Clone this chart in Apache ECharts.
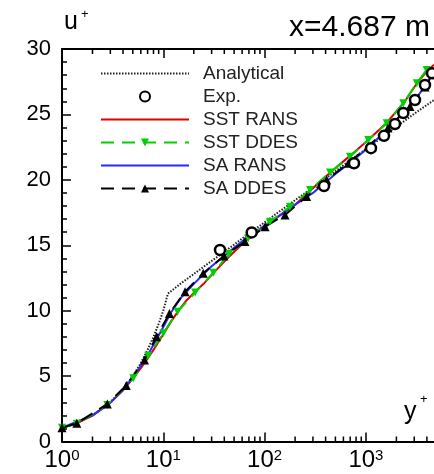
<!DOCTYPE html>
<html><head><meta charset="utf-8">
<script src="https://cdn.jsdelivr.net/npm/echarts@6/dist/echarts.min.js"></script>
<style>html,body{margin:0;padding:0;background:#fff;overflow:hidden}#c{width:434px;height:474px}</style>
</head><body><div id="c"></div>
<script>
// y+ , u+ pairs
const analytical = [[1,1],[2,2],[3,3],[4,4],[5,5],[6,6],[7,7],[8,8],[9,9],[10,10],[11.1,11.3],[15,12.1],[20,12.8],[30,13.8],[50,15.05],[70,15.9],[100,16.75],[200,18.45],[300,19.4],[500,20.65],[700,21.5],[1000,22.35],[2000,24.05],[3000,25.05],[4700,26.1]];
const expData = [[36.3,14.64],[74.6,15.98],[386,19.53],[763,21.27],[1123,22.42],[1509,23.36],[1937,24.27],[2340,25.11],[3052,26.1],[3830,27.25],[4495,28.15]];
const sstRans = [[1,1.05],[1.4,1.38],[2,1.97],[2.8,2.77],[4,3.9],[5,4.8],[6,5.6],[7,6.35],[8,7.0],[10,8.2],[12,9.2],[14,9.95],[17,10.8],[20,11.35],[25,12.05],[31,12.85],[40,13.75],[50,14.5],[70,15.55],[100,16.45],[150,17.45],[200,18.1],[300,19.35],[450,20.6],[700,21.85],[1000,22.9],[1600,24.35],[2400,25.95],[3200,27.4],[4000,28.3],[4700,28.8]];
const sstDdes = [[1,1.05],[1.4,1.36],[2.8,2.79],[5.06,4.83],[7.1,6.55],[10,8.27],[13.8,9.92],[20.6,11.39],[31.2,12.9],[44.5,14.33],[69,15.54],[113,16.8],[178,17.95],[281,19.23],[442,20.57],[697,21.77],[1057,23.05],[1604,24.33],[2340,25.86],[3175,27.39],[3980,28.4]];
const saRans = [[1,1.05],[2,2.0],[3,2.95],[4,3.95],[5,4.9],[6,5.8],[7,6.6],[8,7.4],[9,8.1],[10,8.75],[12,9.9],[15,11.0],[20,12.05],[25,12.8],[30,13.4],[40,14.2],[50,14.8],[70,15.7],[100,16.5],[150,17.4],[200,18.1],[300,19.0],[500,20.45],[700,21.3],[1000,22.3],[1500,23.6],[2000,24.6],[3000,26.0],[4000,27.4],[4700,28.3]];
const saDdes = [[1,1.05],[1.4,1.39],[2.8,2.87],[4.31,4.28],[6.52,6.23],[8.57,8.01],[11.5,9.79],[16.4,11.45],[24.8,12.86],[39.7,14.18],[64,15.28],[101,16.42],[159,17.32],[260,18.72],[410,19.99],[670,21.27],[1050,22.54],[1652,23.97],[2724,25.6],[3830,27.1],[4600,28.1]];
const minorTicksX = [2,3,4,5,6,7,8,9,20,30,40,50,60,70,80,90,200,300,400,500,600,700,800,900,2000,3000,4000,5000,6000,7000,8000,9000];
const seriesNames = ['Analytical','Exp.','SST RANS','SST DDES','SA RANS','SA DDES'];

const FONT = 'Liberation Sans, Arial, sans-serif';
const chart = echarts.init(document.getElementById('c'), null, {renderer:'canvas'});
const hideSym = {opacity:0};
chart.setOption({
  animation:false,
  textStyle:{fontFamily:FONT},
  grid:{left:62, top:49, right:-33.2, bottom:32.5, containLabel:false, outerBoundsMode:'none'},
  title:[
    {text:'x=4.687 m', left:284, top:8, textStyle:{fontFamily:FONT, fontSize:30, fontWeight:'normal', color:'#000'}},
  ],
  graphic:[
    {type:'text', left:64, top:10, style:{text:'u', font:'25px '+FONT, fill:'#000'}},
    {type:'text', left:81, top:8, style:{text:'+', font:'13px '+FONT, fill:'#000'}},
    {type:'text', left:404, top:400, style:{text:'y', font:'25px '+FONT, fill:'#000'}},
    {type:'text', left:420, top:393, style:{text:'+', font:'13px '+FONT, fill:'#000'}}
  ],
  legend:{
    orient:'vertical', left:95, top:59, itemWidth:88, itemHeight:10, itemGap:4,
    data:[
      {name:'Analytical', itemStyle:hideSym},
      {name:'Exp.'},
      {name:'SST RANS', itemStyle:hideSym},
      {name:'SST DDES'},
      {name:'SA RANS', itemStyle:hideSym},
      {name:'SA DDES'}
    ],
    textStyle:{fontFamily:FONT, fontSize:19, color:'#222', lineHeight:19, padding:[0,0,0,9]}
  },
  xAxis:[
    {type:'log', logBase:10, min:1, max:10000, position:'bottom',
     axisLine:{lineStyle:{color:'#000', width:2}},
     axisTick:{inside:true, length:9, lineStyle:{color:'#000', width:1.5}},
     splitLine:{show:false},
     axisLabel:{showMinLabel:true, showMaxLabel:false, margin:7, color:'#000',
       formatter:function(v){const e=Math.round(Math.log10(v));return '{b|10}{s|'+e+'}';},
       rich:{b:{fontSize:24, fontFamily:FONT, color:'#000', lineHeight:24},
             s:{fontSize:15, fontFamily:FONT, color:'#000', lineHeight:15, verticalAlign:'top'}}}},
    {type:'log', logBase:10, min:1, max:10000, position:'top',
     axisLine:{lineStyle:{color:'#000', width:2}},
     axisTick:{inside:true, length:9, lineStyle:{color:'#000', width:1.5}},
     axisLabel:{show:false}, splitLine:{show:false}}
  ],
  yAxis:{type:'value', min:0, max:30, interval:5,
     axisLine:{show:true, lineStyle:{color:'#000', width:2}},
     axisTick:{inside:true, length:9, lineStyle:{color:'#000', width:1.5}},
     minorTick:{show:true, splitNumber:5, length:5, lineStyle:{color:'#000', width:1.5}},
     splitLine:{show:false},
     axisLabel:{fontSize:22, color:'#000', margin:11, fontFamily:FONT}},
  series:[
    {name:'minorTicks', type:'custom', silent:true, z:5,
     data:minorTicksX.map(v=>[v,0]),
     renderItem:function(params, api){
       const v = api.value(0);
       const b = api.coord([v,0]); const t = api.coord([v,30]);
       return {type:'group', children:[
         {type:'line', shape:{x1:b[0], y1:b[1], x2:b[0], y2:b[1]-5}, style:{stroke:'#000', lineWidth:1.5}},
         {type:'line', shape:{x1:t[0], y1:t[1], x2:t[0], y2:t[1]+5}, style:{stroke:'#000', lineWidth:1.5}}
       ]};
     }},
    {name:'Analytical', type:'line', data:analytical, symbol:'none',
     lineStyle:{color:'#222', width:2, type:[1.5,1.5]}, itemStyle:{color:'#222'}},
    {name:'SST RANS', type:'line', data:sstRans, symbol:'none',
     lineStyle:{color:'#e00000', width:2}, itemStyle:{color:'#e00000'}},
    {name:'SA RANS', type:'line', data:saRans, symbol:'none',
     lineStyle:{color:'#2a2aff', width:2}, itemStyle:{color:'#2a2aff'}},
    {name:'SST DDES', type:'line', data:sstDdes, symbol:'triangle', symbolRotate:180, symbolSize:8,
     lineStyle:{color:'#00d000', width:2, type:[13,8]}, itemStyle:{color:'#00d000'}},
    {name:'SA DDES', type:'line', data:saDdes, symbol:'triangle', symbolSize:9,
     lineStyle:{color:'#000', width:2, type:[13,8]}, itemStyle:{color:'#000'}},
    {name:'Exp.', type:'scatter', data:expData, symbol:'circle', symbolSize:10, z:10,
     itemStyle:{color:'#fff', borderColor:'#000', borderWidth:2.5, opacity:1}}
  ]
});
</script></body></html>
